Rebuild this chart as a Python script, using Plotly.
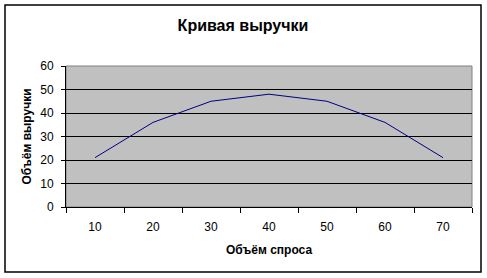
import plotly.graph_objects as go

categories = ["10", "20", "30", "40", "50", "60", "70"]
revenue = [21, 36, 45, 48, 45, 36, 21]
y_ticks = [0, 10, 20, 30, 40, 50, 60]

W, H = 487, 278
L, R, T, B = 66, 15, 66, 71
pw, ph = W - L - R, H - T - B

fig = go.Figure()
fig.add_trace(go.Scatter(
    x=categories, y=revenue, mode="lines",
    line=dict(color="#000080", width=1),
    showlegend=False, hoverinfo="skip",
))

font = "Liberation Sans, Arial, sans-serif"

fig.update_layout(
    width=W, height=H,
    margin=dict(l=L, r=R, t=T, b=B),
    paper_bgcolor="white",
    plot_bgcolor="#C0C0C0",
    font=dict(family=font, size=12, color="black"),
    title=dict(text="<b>Кривая выручки</b>", x=243 / W, xanchor="center",
               xref="container", y=1 - 25 / H, yanchor="middle", yref="container",
               font=dict(size=16, family=font, color="black")),
    xaxis=dict(
        type="category", range=[-0.5, 6.5],
        showgrid=False, zeroline=False,
        showline=True, linecolor="black", linewidth=1,
        ticks="outside", tickson="boundaries", ticklen=5, tickcolor="black",
        tickfont=dict(size=12), ticklabelstandoff=9,
        title=dict(text="<b>Объём спроса</b>", font=dict(size=12), standoff=12),
    ),
    yaxis=dict(
        range=[0, 60], tickvals=y_ticks,
        showgrid=True, gridcolor="black", gridwidth=1,
        zeroline=False,
        showline=True, linecolor="black", linewidth=1,
        ticks="outside", ticklen=4, tickcolor="black",
        tickfont=dict(size=12), ticklabelstandoff=5,
        title=dict(text="<b>Объём выручки</b>", font=dict(size=12), standoff=6),
    ),
    shapes=[
        dict(type="rect", xref="paper", yref="paper",
             x0=0, x1=1, y0=0, y1=1,
             line=dict(color="#808080", width=1), layer="below"),
        dict(type="rect", xref="paper", yref="paper",
             x0=(5 - L) / pw, x1=(481 - L) / pw,
             y0=(H - B - 272) / ph, y1=(H - B - 5) / ph,
             line=dict(color="black", width=1.5), fillcolor="rgba(0,0,0,0)"),
    ],
)

fig.write_html("out.html")
